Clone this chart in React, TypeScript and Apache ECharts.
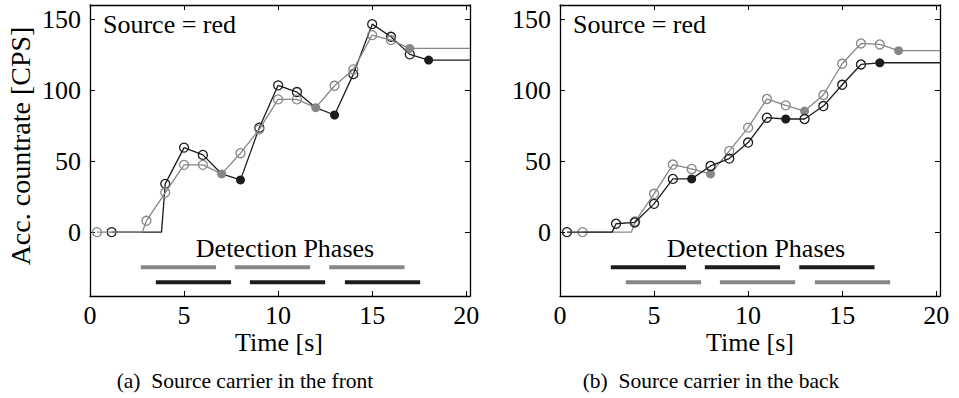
import React, { useEffect, useRef } from 'react';
import * as echarts from 'echarts';

// Axis extents
const X_MIN = 0;
const X_MAX = 20.2;
const Y_MIN = -45;
const Y_MAX = 160;

// Marker kinds: o = open circle, f = filled circle, n = no marker
// Panel (a): Source carrier in the front
const aBlackT = [1.15, 3.8, 4, 5, 6, 7, 8, 9, 10, 11, 12, 13, 14, 15, 16, 17, 18, 20.2];
const aBlackV = [0, 0, 34, 59.5, 54.4, 41, 36.8, 73.6, 103.4, 98.7, 87.7, 82.5, 111.3, 146.5, 137.6, 125.2, 121.2, 121.2];
const aBlackM = ['o', 'n', 'o', 'o', 'o', 'n', 'f', 'o', 'o', 'o', 'n', 'f', 'o', 'o', 'o', 'o', 'f', 'n'];

const aGrayT = [0.37, 2.78, 3, 4, 5, 6, 7, 8, 9, 10, 11, 12, 13, 14, 15, 16, 17, 20.2];
const aGrayV = [0, 0, 8, 27.9, 47.4, 47.4, 41, 55.6, 72.4, 93.5, 93.5, 87.7, 103.1, 114.6, 138.8, 135.3, 129.4, 129.4];
const aGrayM = ['o', 'n', 'o', 'o', 'o', 'o', 'f', 'o', 'o', 'o', 'o', 'f', 'o', 'o', 'o', 'o', 'f', 'n'];

// Panel (b): Source carrier in the back
const bBlackT = [0.37, 2.77, 2.98, 3.97, 5, 6, 7, 8, 9, 10, 11, 12, 13, 14, 15, 16, 17, 20.2];
const bBlackV = [0, 0, 5.9, 6.8, 19.9, 37.5, 37.5, 46.6, 51.8, 63.1, 80.6, 79.7, 79.7, 88.8, 103.8, 118.1, 119.3, 119.3];
const bBlackM = ['o', 'n', 'o', 'o', 'o', 'o', 'f', 'o', 'o', 'o', 'o', 'f', 'o', 'o', 'o', 'o', 'f', 'n'];

const bGrayT = [1.2, 3.8, 4, 5, 6, 7, 8, 9, 10, 11, 12, 13, 14, 15, 16, 17, 18, 20.2];
const bGrayV = [0, 0, 7.5, 27, 47.6, 44.5, 41, 57.2, 73.6, 93.8, 89.3, 85.3, 96.6, 118.6, 132.9, 132.2, 127.8, 127.8];
const bGrayM = ['o', 'n', 'o', 'o', 'o', 'o', 'f', 'o', 'o', 'o', 'o', 'f', 'o', 'o', 'o', 'o', 'f', 'n'];

// Detection phases [start, end] (s)
const phasesEarly = [[2.7, 6.7], [7.7, 11.7], [12.72, 16.72]];
const phasesLate = [[3.5, 7.5], [8.5, 12.5], [13.55, 17.55]];
const phaseRowUpper = -24.8;
const phaseRowLower = -35.4;

const PANEL_TEXT = 'Source = red';
const PHASE_TEXT = 'Detection Phases';
const X_TITLE = 'Time [s]';
const Y_TITLE = 'Acc. countrate [CPS]';
const CAPTION_A = '(a)\u00a0 Source carrier in the front';
const CAPTION_B = '(b)\u00a0 Source carrier in the back';

const BLACK = '#1c1c1c';
const GRAY = '#878787';
const FONT = 'Liberation Serif';

function buildPoints(t: number[], v: number[], m: string[], color: string) {
  return t.map((x, i) => ({
    value: [x, v[i]],
    symbol: m[i] === 'n' ? 'none' : 'circle',
    itemStyle: {
      color: m[i] === 'f' ? color : 'rgba(0,0,0,0)',
      borderColor: color,
      borderWidth: m[i] === 'f' ? 0 : 1.3,
    },
  }));
}

function curve(name: string, axis: number, t: number[], v: number[], m: string[], color: string, z: number) {
  return {
    name,
    type: 'line',
    xAxisIndex: axis,
    yAxisIndex: axis,
    data: buildPoints(t, v, m, color),
    symbolSize: 9,
    showAllSymbol: true,
    lineStyle: { color, width: 1.3 },
    z,
    silent: true,
  };
}

function phaseBars(axis: number, phases: number[][], y: number, color: string) {
  return phases.map((p, i) => ({
    name: 'phase' + axis + '_' + y + '_' + i,
    type: 'line',
    xAxisIndex: axis,
    yAxisIndex: axis,
    data: [[p[0], y], [p[1], y]],
    symbol: 'none',
    lineStyle: { color, width: 4, cap: 'butt' },
    silent: true,
  }));
}

const tickFmt = (val: number) => (Math.abs(val % 5) < 1e-9 ? String(val) : '');
const yFmt = (val: number) => (Math.abs(val % 50) < 1e-9 ? String(val) : '');

function xAxes(grid: number) {
  const common = {
    type: 'value',
    gridIndex: grid,
    min: X_MIN,
    max: X_MAX,
    splitNumber: 4,
    splitLine: { show: false },
    axisLine: { show: true, onZero: false, lineStyle: { color: '#000', width: 1.3 } },
    axisTick: { show: true, inside: true, length: 5, lineStyle: { color: '#000', width: 1 } },
  };
  return [
    {
      ...common,
      position: 'bottom',
      axisLabel: { show: true, formatter: tickFmt, color: '#000', fontSize: 26, fontFamily: FONT, margin: 6 },
    },
    { ...common, position: 'top', axisLabel: { show: false } },
  ];
}

function yAxes(grid: number) {
  const common = {
    type: 'value',
    gridIndex: grid,
    min: Y_MIN,
    max: Y_MAX,
    splitNumber: 4,
    splitLine: { show: false },
    axisLine: { show: true, onZero: false, lineStyle: { color: '#000', width: 1.3 } },
    axisTick: { show: true, inside: true, length: 5, lineStyle: { color: '#000', width: 1 } },
  };
  return [
    {
      ...common,
      position: 'left',
      axisLabel: { show: true, formatter: yFmt, color: '#000', fontSize: 26, fontFamily: FONT, margin: 9 },
    },
    { ...common, position: 'right', axisLabel: { show: false } },
  ];
}

function txt(text: string, x: number, y: number, size: number, align = 'center', rotation = 0) {
  return {
    type: 'text',
    x,
    y,
    rotation,
    silent: true,
    style: {
      text,
      fill: '#000',
      fontSize: size,
      fontFamily: FONT,
      align,
      verticalAlign: 'middle',
    },
  };
}

export default function App() {
  const ref = useRef<HTMLDivElement>(null);

  useEffect(() => {
    if (!ref.current) return;
    const chart = echarts.init(ref.current, undefined, { renderer: 'svg' });
    const xa = xAxes(0);
    const xb = xAxes(1);
    const ya = yAxes(0);
    const yb = yAxes(1);
    // axis order: 0 = (a) bottom/left, 1 = (a) top/right, 2 = (b) bottom/left, 3 = (b) top/right
    const option = {
      animation: false,
      backgroundColor: '#ffffff',
      textStyle: { fontFamily: FONT },
      grid: [
        { left: 90, top: 5, width: 380, height: 291 },
        { left: 560, top: 5, width: 380, height: 291 },
      ],
      xAxis: [xa[0], xa[1], xb[0], xb[1]],
      yAxis: [ya[0], ya[1], yb[0], yb[1]],
      series: [
        ...phaseBars(0, phasesEarly, phaseRowUpper, GRAY),
        ...phaseBars(0, phasesLate, phaseRowLower, BLACK),
        ...phaseBars(2, phasesEarly, phaseRowUpper, BLACK),
        ...phaseBars(2, phasesLate, phaseRowLower, GRAY),
        curve('a-black', 0, aBlackT, aBlackV, aBlackM, BLACK, 3),
        curve('a-gray', 0, aGrayT, aGrayV, aGrayM, GRAY, 4),
        curve('b-gray', 2, bGrayT, bGrayV, bGrayM, GRAY, 3),
        curve('b-black', 2, bBlackT, bBlackV, bBlackM, BLACK, 4),
      ],
      graphic: [
        txt(Y_TITLE, 20, 146, 28, 'center', Math.PI / 2),
        txt(PANEL_TEXT, 103, 24, 26, 'left'),
        txt(PANEL_TEXT, 573, 24, 26, 'left'),
        txt(PHASE_TEXT, 285, 248, 26),
        txt(PHASE_TEXT, 756, 248, 26),
        txt(X_TITLE, 279, 342, 26),
        txt(X_TITLE, 750, 342, 26),
        txt(CAPTION_A, 245, 381, 21.5),
        txt(CAPTION_B, 711, 381, 21.5),
      ],
    };
    chart.setOption(option as any);
    return () => chart.dispose();
  }, []);

  return (
    <div
      ref={ref}
      style={{ position: 'absolute', left: 0, top: 0, width: 959, height: 398, background: '#fff' }}
    />
  );
}
